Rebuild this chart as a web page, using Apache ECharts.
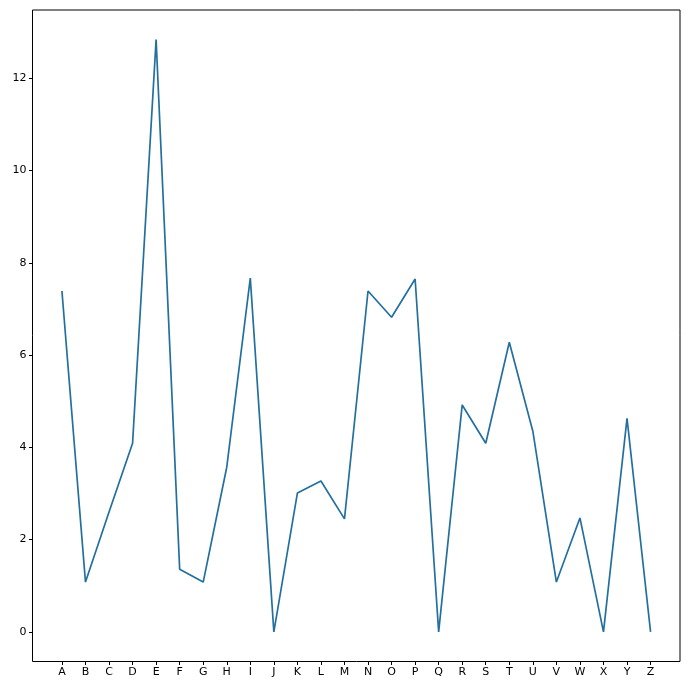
<!DOCTYPE html>
<html>
<head>
<meta charset="utf-8">
<script src="https://cdn.jsdelivr.net/npm/echarts@6/dist/echarts.min.js"></script>
<style>html,body{margin:0;padding:0;background:#fff}#c{width:689px;height:689px}</style>
</head>
<body>
<div id="c"></div>
<script>
const categories = ['A','B','C','D','E','F','G','H','I','J','K','L','M','N','O','P','Q','R','S','T','U','V','W','X','Y','Z'];
const values = [7.39,1.08,2.6,4.09,12.84,1.36,1.08,3.57,7.67,0,3.01,3.27,2.45,7.39,6.82,7.65,0,4.92,4.09,6.28,4.35,1.08,2.47,0,4.63,0];
const yTicks = [0,2,4,6,8,10,12];

const n = categories.length;
const xPad = (n - 1) * 0.05;
const yMaxData = Math.max(...values), yMinData = Math.min(...values);
const yPad = (yMaxData - yMinData) * 0.05;
const xTickVals = categories.map((_, i) => i);

const chart = echarts.init(document.getElementById('c'), null, {renderer: 'canvas'});
chart.setOption({
  animation: false,
  backgroundColor: '#fff',
  grid: {left: 32.5, right: 9, top: 10, bottom: 27.5, show: true, borderColor: '#000', borderWidth: 1, backgroundColor: 'transparent'},
  xAxis: {
    type: 'value',
    min: -xPad, max: n - 1 + xPad,
    axisLine: {show: false, onZero: false},
    splitLine: {show: false},
    axisTick: {show: true, length: 3.5, lineStyle: {color: '#000'}, customValues: xTickVals},
    axisLabel: {
      customValues: xTickVals, color: '#000', fontSize: 11, fontFamily: 'DejaVu Sans', margin: 5,
      formatter: v => categories[Math.round(v)] || ''
    }
  },
  yAxis: {
    type: 'value',
    min: yMinData - yPad, max: yMaxData + yPad,
    axisLine: {show: false, onZero: false},
    splitLine: {show: false},
    axisTick: {show: true, length: 3.5, lineStyle: {color: '#000'}, customValues: yTicks},
    axisLabel: {customValues: yTicks, color: '#000', fontSize: 11, fontFamily: 'DejaVu Sans', margin: 6}
  },
  series: [{
    type: 'line',
    data: values.map((v, i) => [i, v]),
    symbol: 'none',
    lineStyle: {color: '#23709f', width: 1.7},
    z: 3
  }]
});
</script>
</body>
</html>
